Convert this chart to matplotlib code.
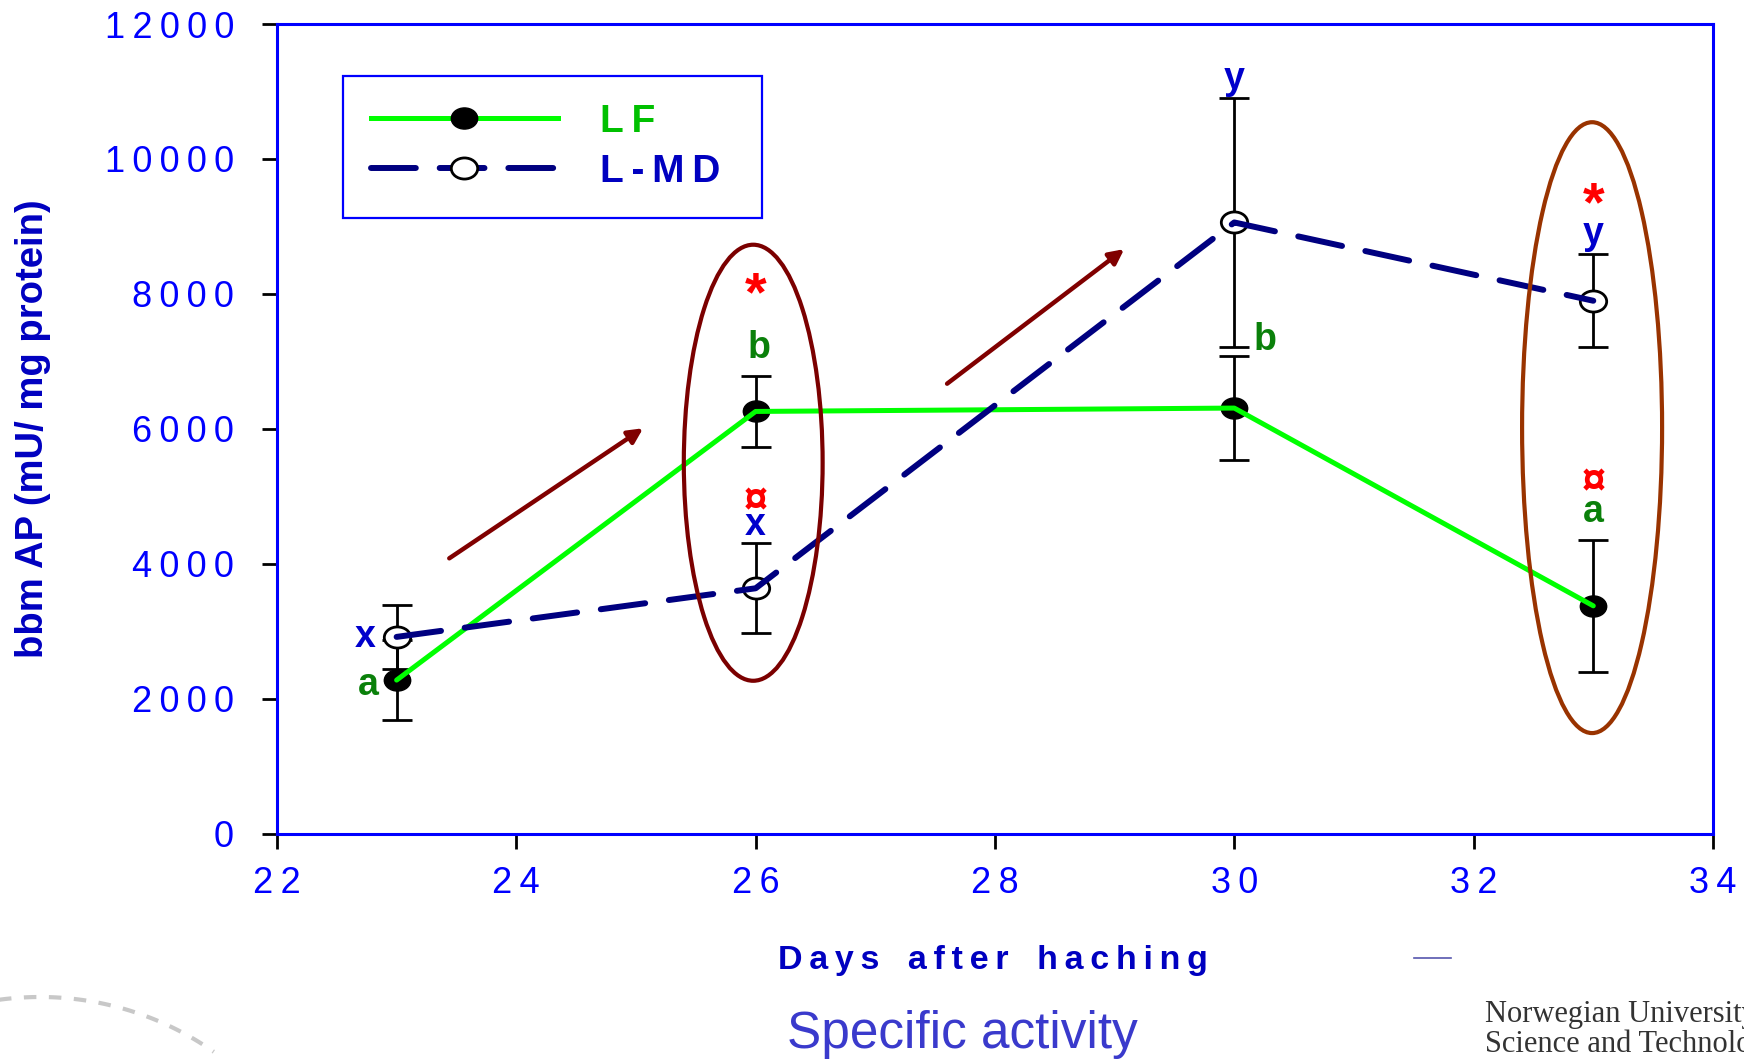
import numpy as np
import matplotlib
matplotlib.use('Agg')
import matplotlib.pyplot as plt
from matplotlib.path import Path
from matplotlib.patches import Ellipse
from matplotlib.lines import Line2D

plt.rcParams['font.family'] = ['Liberation Sans', 'DejaVu Sans']

# data
days = [23, 26, 30, 33]
lf_mean = [2280, 6260, 6310, 3380]
lf_err = [590, 525, 770, 980]
lmd_mean = [2920, 3640, 9060, 7900]
lmd_err = [470, 665, 1840, 690]
series_names = ['LF', 'L-MD']

x_ticks = [22, 24, 26, 28, 30, 32, 34]
y_ticks = [0, 2000, 4000, 6000, 8000, 10000, 12000]

# significance letters: (day, value, text, colour)
marks = [
    (22.74, 2919, 'x', '#0000CC'),
    (22.76, 2207, 'a', '#0A800A'),
    (26.0, 7970, '*', '#FF0000'),
    (26.03, 7200, 'b', '#0A800A'),
    (26.0, 4930, '\u00a4', '#FF0000'),
    (26.0, 4578, 'x', '#0000CC'),
    (30.0, 11185, 'y', '#0000CC'),
    (30.26, 7319, 'b', '#0A800A'),
    (33.0, 9300, '*', '#FF0000'),
    (33.0, 8890, 'y', '#0000CC'),
    (33.0, 5205, '\u00a4', '#FF0000'),
    (33.0, 4770, 'a', '#0A800A'),
]


def spaced(s):
    return '\u2009'.join(s)


# oval marker, a bit wider than tall
circ = Path.unit_circle()
oval = Path(circ.vertices * [1.0, 0.8], circ.codes)

fig = plt.figure(figsize=(17.44, 10.62), dpi=100)
ax = fig.add_axes([0.1588, 0.2147, 0.8234, 0.7627])

ax.errorbar(days, lf_mean, yerr=lf_err, fmt='none', ecolor='black',
            elinewidth=2, capsize=11, capthick=2, zorder=2)
ax.errorbar(days, lmd_mean, yerr=lmd_err, fmt='none', ecolor='black',
            elinewidth=2, capsize=11, capthick=2, zorder=2)

ax.plot(days, lf_mean, ls='none', marker=oval, ms=19, mfc='black',
        mec='black', zorder=3)
ax.plot(days, lmd_mean, ls='none', marker=oval, ms=19, mfc='white',
        mec='black', mew=2, zorder=3)
ax.plot(days, lf_mean, color='#00FF00', lw=3.6, solid_capstyle='round',
        zorder=4)
ax.plot(days, lmd_mean, color='#000080', lw=4.3, dashes=(7.5, 4),
        dash_capstyle='round', zorder=4)

for x, y, t, c in marks:
    size = 27
    if t == '*':
        size = 40
    elif t == '\u00a4':
        size = 31
    ax.text(x, y, t, color=c, fontsize=size, fontweight='bold',
            ha='center', va='center', zorder=5)

# ovals around the compared points
ax.add_patch(Ellipse((25.98, 5500), 1.16, 6460, fill=False,
                     ec='#7B0000', lw=3, zorder=5))
ax.add_patch(Ellipse((32.99, 6020), 1.17, 9050, fill=False,
                     ec='#993300', lw=3, zorder=5))

# trend arrows
for (x0, y0), (x1, y1) in [((23.44, 4084), (25.06, 6011)),
                           ((27.60, 6671), (29.08, 8665))]:
    ax.annotate('', xy=(x1, y1), xytext=(x0, y0),
                arrowprops=dict(arrowstyle='-|>', color='#800000', lw=3.2,
                                mutation_scale=22, shrinkA=0, shrinkB=0),
                zorder=5)

ax.set_xlim(22, 34)
ax.set_ylim(0, 12000)
ax.set_xticks(x_ticks)
ax.set_xticklabels([spaced(str(v)) for v in x_ticks])
ax.set_yticks(y_ticks)
ax.set_yticklabels([spaced(str(v)) for v in y_ticks])
ax.tick_params(axis='both', direction='out', length=11, width=2,
               color='black', labelcolor='#0000FF', labelsize=26)
ax.tick_params(axis='x', pad=12)
ax.tick_params(axis='y', pad=20)
for sp in ax.spines.values():
    sp.set_color('#0000FF')
    sp.set_linewidth(2.2)

fig.text(33 / 1744, 1 - 429 / 1062, 'bbm AP (mU/ mg protein)', fontsize=27.5,
         fontweight='bold', color='#0000C0', rotation=90,
         ha='center', va='center')
fig.text(0.5694, 0.096, '   '.join(spaced(w) for w in
                                   'Days after haching'.split()),
         fontsize=24.5, fontweight='bold', color='#0000C0',
         ha='center', va='center')

handles = [
    Line2D([], [], color='#00FF00', lw=3.6, marker=oval, ms=19,
           mfc='black', mec='black'),
    Line2D([], [], color='#000080', lw=4.3, dashes=(7.5, 4),
           dash_capstyle='round', marker=oval, ms=19, mfc='white',
           mec='black', mew=2),
]
leg = ax.legend(handles, [spaced(n) for n in series_names],
                loc='upper left', bbox_to_anchor=(0.046, 0.7654, 0.2917, 0.1704),
                mode='expand', numpoints=1, fontsize=28, handlelength=4.8,
                handletextpad=1.1, borderpad=0.72, labelspacing=0.35,
                borderaxespad=0, fancybox=False, framealpha=1,
                edgecolor='#0000FF')
leg.get_frame().set_linewidth(1.6)
for txt, c in zip(leg.get_texts(), ['#00C000', '#0000C0']):
    txt.set_color(c)
    txt.set_fontweight('bold')

# slide footer pieces
fig.text(0.552, 0.026, 'Specific activity', fontsize=37, color='#3A3ACC',
         ha='center', va='center')
fig.text(0.8515, 0.045, 'Norwegian University of', fontsize=22,
         family='Liberation Serif', color='#333333', va='center')
fig.text(0.8515, 0.017, 'Science and Technology', fontsize=22,
         family='Liberation Serif', color='#333333', va='center')
fig.add_artist(Line2D([0.811, 0.832], [0.098, 0.098], color='#2B2B99',
                      lw=1.2, alpha=0.8))

# faint dashed arc in the lower left corner
t = np.linspace(np.radians(98), np.radians(55), 60)
arc_x = (40 + 303 * np.cos(t)) / 1744
arc_y = 1 - (1300 - 303 * np.sin(t)) / 1062
fig.add_artist(Line2D(arc_x, arc_y, color='#C8C8C8', lw=3, dashes=(3, 3)))

fig.savefig('out.png', dpi=100)
